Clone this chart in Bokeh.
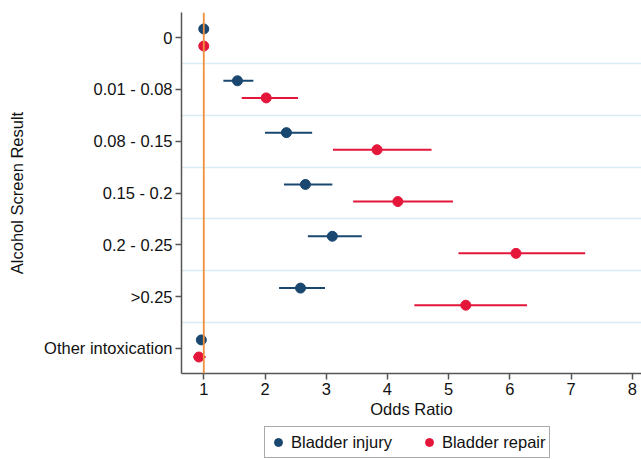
from bokeh.plotting import figure
from bokeh.layouts import column
from bokeh.models import (Range1d, FixedTicker, ColumnDataSource, Span, Legend, LegendItem)
from bokeh.embed import file_html
from bokeh.resources import INLINE

labels = ["0", "0.01 - 0.08", "0.08 - 0.15", "0.15 - 0.2", "0.2 - 0.25", ">0.25", "Other intoxication"]
injury_or = [1.00, 1.55, 2.35, 2.66, 3.10, 2.58, 0.96]
injury_lo = [1.00, 1.32, 2.00, 2.31, 2.70, 2.23, 0.95]
injury_hi = [1.00, 1.81, 2.77, 3.10, 3.58, 2.98, 0.97]
repair_or = [1.00, 2.02, 3.83, 4.17, 6.10, 5.28, 0.92]
repair_lo = [1.00, 1.62, 3.11, 3.44, 5.16, 4.44, 0.83]
repair_hi = [1.00, 2.54, 4.72, 5.07, 7.23, 6.28, 1.03]
x_ticks = [1, 2, 3, 4, 5, 6, 7, 8]
series_names = ["Bladder injury", "Bladder repair"]

BLUE = "#1a476f"
RED = "#e4173b"
FONT = "Liberation Sans"
FS = "16.5px"
OFF = 0.165

idx = list(range(len(labels)))
inj = ColumnDataSource(dict(y=[i - OFF for i in idx], x=injury_or, lo=injury_lo, hi=injury_hi))
rep = ColumnDataSource(dict(y=[i + OFF for i in idx], x=repair_or, lo=repair_lo, hi=repair_hi))

p = figure(width=641, height=424, output_backend="svg", toolbar_location=None,
           x_range=Range1d(0.636, 8.15), y_range=Range1d(6.483, -0.483),
           min_border_left=181, min_border_right=0, min_border_top=12, min_border_bottom=51)
p.outline_line_color = None
p.background_fill_color = "white"

p.xgrid.visible = False
p.ygrid.ticker = FixedTicker(ticks=[i + 0.5 for i in idx[:-1]])
p.ygrid.grid_line_color = "#d9ebf4"
p.ygrid.grid_line_width = 1.5

p.add_layout(Span(location=1, dimension="height", line_color="#f0903e", line_width=1.8))

p.segment(x0="lo", x1="hi", y0="y", y1="y", source=inj, line_color=BLUE, line_width=2)
p.segment(x0="lo", x1="hi", y0="y", y1="y", source=rep, line_color=RED, line_width=2)
p.scatter(x="x", y="y", source=inj, size=10, fill_color=BLUE, line_color=BLUE)
p.scatter(x="x", y="y", source=rep, size=10, fill_color=RED, line_color=RED)

for ax in (p.xaxis, p.yaxis):
    ax.axis_line_color = "#555555"
    ax.axis_line_width = 1.5
    ax.major_tick_line_color = "#555555"
    ax.major_tick_line_width = 1.5
    ax.major_tick_out = 6
    ax.major_tick_in = 0
    ax.minor_tick_line_color = None
    ax.major_label_text_font = FONT
    ax.major_label_text_font_size = FS
    ax.major_label_text_color = "#111111"
    ax.axis_label_text_font = FONT
    ax.axis_label_text_font_size = FS
    ax.axis_label_text_font_style = "normal"
    ax.axis_label_text_color = "#111111"

p.xaxis.ticker = FixedTicker(ticks=x_ticks)
p.xaxis.axis_label = "Odds Ratio"
p.xaxis.major_label_standoff = 3
p.xaxis.axis_label_standoff = 2
p.yaxis.ticker = FixedTicker(ticks=idx)
p.yaxis.major_label_overrides = {i: labels[i] for i in idx}
p.yaxis.axis_label = "Alcohol Screen Result"
p.yaxis.major_label_standoff = 3
p.yaxis.axis_label_standoff = 15

# legend strip (its frame is aligned with the main plot's frame by the column layout)
lf = figure(width=641, height=35, output_backend="svg", toolbar_location=None,
            x_range=Range1d(0, 1), y_range=Range1d(0, 1),
            x_axis_type=None, y_axis_type=None, min_border=0)
lf.outline_line_color = None
lf.grid.visible = False
# legend-only renderers, each holding one point kept outside the visible range
d1 = lf.scatter(x=[-5], y=[-5], size=10, fill_color=BLUE, line_color=BLUE)
d2 = lf.scatter(x=[-5], y=[-5], size=10, fill_color=RED, line_color=RED)
legend = Legend(items=[LegendItem(label=series_names[0], renderers=[d1]),
                       LegendItem(label=series_names[1], renderers=[d2])],
                orientation="horizontal", location=(83, 1), margin=0,
                label_text_font=FONT, label_text_font_size=FS, label_text_color="#111111",
                glyph_width=20, glyph_height=24, label_height=24, label_standoff=3,
                spacing=27, padding=3,
                border_line_color="#555555", border_line_width=1.2, background_fill_alpha=1)
lf.add_layout(legend, "center")

layout = column(p, lf, spacing=0)
open("out.html", "w").write(file_html(layout, INLINE))
